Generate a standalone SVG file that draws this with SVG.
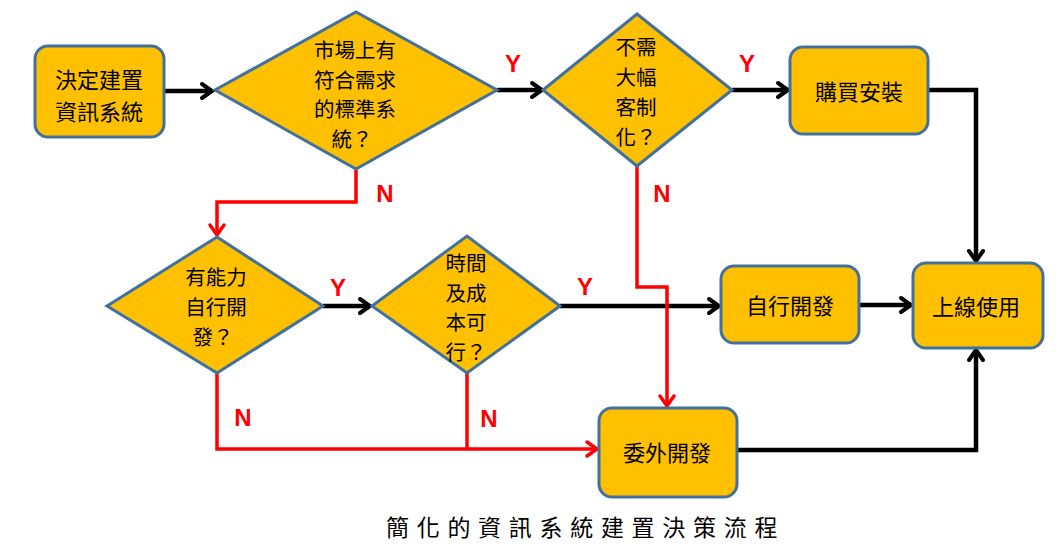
<svg xmlns="http://www.w3.org/2000/svg" width="1059" height="551" viewBox="0 0 1059 551">
<style>
.node{fill:#FFC000;stroke:#41719C;stroke-width:3;}
.t{font-family:"Noto Sans CJK TC","Noto Sans CJK SC",sans-serif;font-size:22px;fill:#000;text-anchor:middle;}
.m{font-size:20.5px;}
.blk{fill:none;stroke:#000;stroke-width:4.5;}
.red{fill:none;stroke:#FF0000;stroke-width:3.5;}
.lbl{font-family:"Liberation Sans",Arial,sans-serif;font-weight:bold;font-size:24px;fill:#FF0000;text-anchor:middle;}
.cap{font-family:"Noto Sans CJK TC","Noto Sans CJK SC",serif;font-size:23px;fill:#000;letter-spacing:7.7px;}
</style>
<defs>
<marker id="ab" viewBox="-3 -3 18 20" markerWidth="18" markerHeight="20" refX="11" refY="7" orient="auto" markerUnits="userSpaceOnUse">
<path d="M1,0 L11,7 L1,14" fill="none" stroke="#000" stroke-width="4" stroke-linecap="round"/>
</marker>
<marker id="ar" viewBox="-3 -3 18 20" markerWidth="18" markerHeight="20" refX="11" refY="7" orient="auto" markerUnits="userSpaceOnUse">
<path d="M1,0 L11,7 L1,14" fill="none" stroke="#FF0000" stroke-width="3.5" stroke-linecap="round"/>
</marker>
</defs>
<rect width="1059" height="551" fill="#fff"/>

<g id="connectors">
<path class="blk" d="M164,91 L212,91" marker-end="url(#ab)"/>
<path class="blk" d="M497,90 L542,90" marker-end="url(#ab)"/>
<path class="blk" d="M732,90 L788,90" marker-end="url(#ab)"/>
<path class="blk" d="M928,90 L976,90 L976,261" marker-end="url(#ab)"/>
<path class="blk" d="M323,306 L370,306" marker-end="url(#ab)"/>
<path class="blk" d="M560,306 L719,306" marker-end="url(#ab)"/>
<path class="blk" d="M859,305 L911,305" marker-end="url(#ab)"/>
<path class="blk" d="M737,450 L976,450 L976,350" marker-end="url(#ab)"/>
<path class="red" d="M356,169 L356,202 L217,202 L217,235" marker-end="url(#ar)"/>
<path class="red" d="M637,166 L637,287 L667,287 L667,406" marker-end="url(#ar)"/>
<path class="red" d="M217,373 L217,449 L597,449" marker-end="url(#ar)"/>
<path class="red" d="M467,373 L467,449"/>
<text class="lbl" x="513" y="72">Y</text>
<text class="lbl" x="747" y="72">Y</text>
<text class="lbl" x="338" y="296">Y</text>
<text class="lbl" x="585" y="295">Y</text>
<text class="lbl" x="385" y="202">N</text>
<text class="lbl" x="662" y="202">N</text>
<text class="lbl" x="243" y="426">N</text>
<text class="lbl" x="489" y="427">N</text>
</g>

<g id="n-start">
<rect class="node" x="35" y="46" width="129" height="91" rx="13"/>
<text class="t" x="99" y="88">決定建置<tspan x="99" dy="32">資訊系統</tspan></text>
</g>

<g id="d-market">
<polygon class="node" points="215,90 356,12 497,90 356,169"/>
<text class="t m" x="355" y="58">市場上有<tspan x="355" dy="29.7">符合需求</tspan><tspan x="355" dy="29.7">的標準系</tspan><tspan x="352" dy="29.7">統？</tspan></text>
</g>

<g id="d-custom">
<polygon class="node" points="543,90 637,14 732,90 637,166"/>
<text class="t m" x="636" y="55">不需<tspan x="636" dy="30">大幅</tspan><tspan x="636" dy="30">客制</tspan><tspan x="636" dy="30">化？</tspan></text>
</g>

<g id="n-buy">
<rect class="node" x="790" y="47" width="138" height="87" rx="13"/>
<text class="t" x="859" y="100">購買安裝</text>
</g>

<g id="d-ability">
<polygon class="node" points="107,306 217,237 323,306 217,373"/>
<text class="t m" x="216" y="285">有能力<tspan x="216" dy="30">自行開</tspan><tspan x="213" dy="30">發？</tspan></text>
</g>

<g id="d-cost">
<polygon class="node" points="372,306 467,236 560,306 467,373"/>
<text class="t m" x="466" y="271">時間<tspan x="466" dy="29.7">及成</tspan><tspan x="466" dy="29.7">本可</tspan><tspan x="466" dy="29.7">行？</tspan></text>
</g>

<g id="n-self">
<rect class="node" x="721" y="266" width="138" height="77" rx="13"/>
<text class="t" x="790" y="314">自行開發</text>
</g>

<g id="n-online">
<rect class="node" x="913" y="263" width="130" height="85" rx="13"/>
<text class="t" x="976" y="315">上線使用</text>
</g>

<g id="n-outsource">
<rect class="node" x="599" y="408" width="138" height="89" rx="13"/>
<text class="t" x="667" y="461">委外開發</text>
</g>

<text class="cap" x="386" y="536">簡化的資訊系統建置決策流程</text>
</svg>
